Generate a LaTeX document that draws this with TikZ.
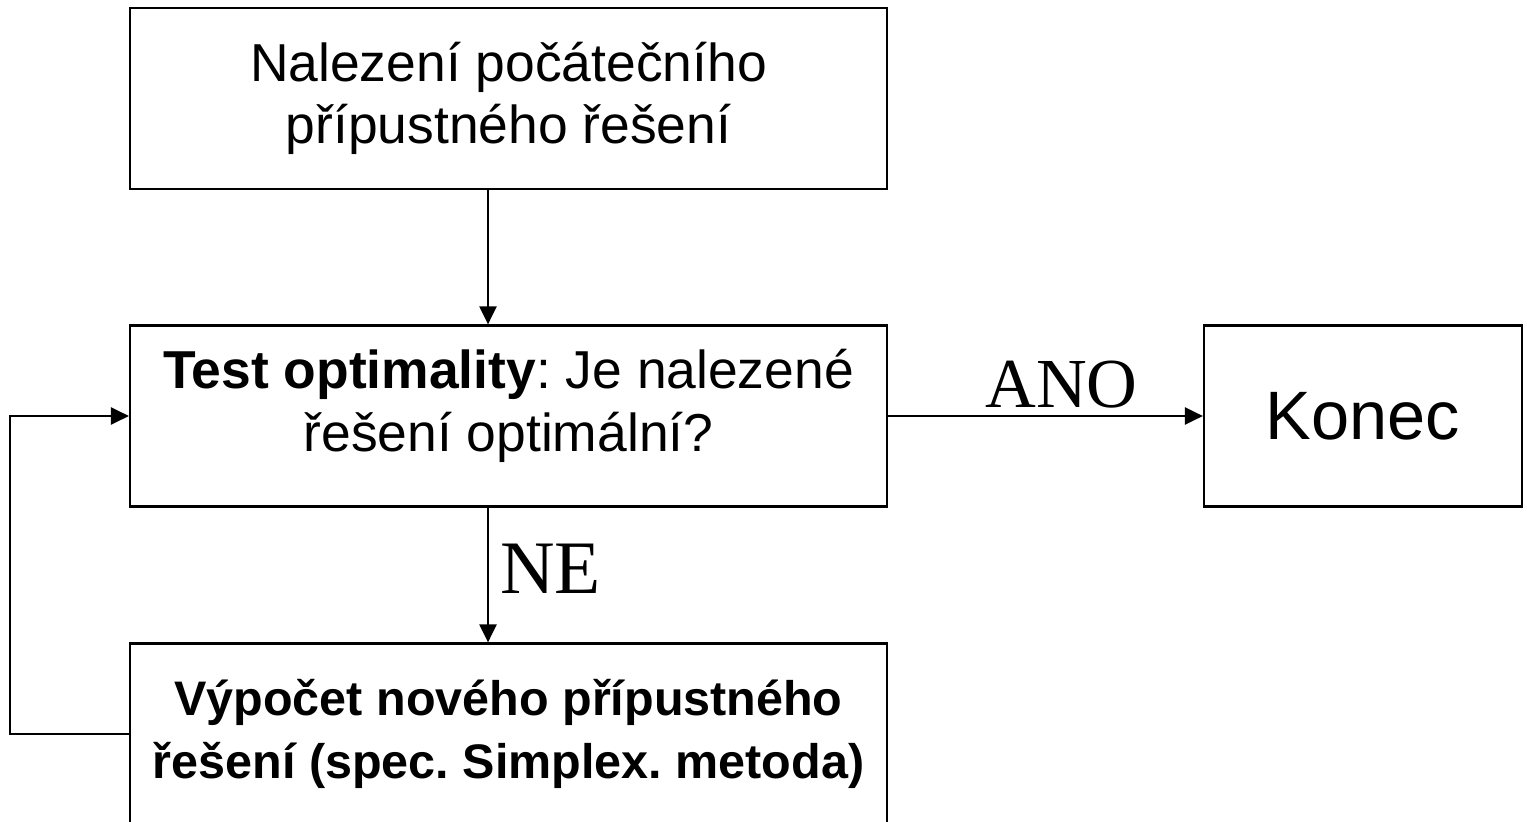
\documentclass[tikz,border=0pt]{standalone}
\usepackage{fontspec}
\setmainfont{Liberation Sans}
\newfontfamily\timesfont{Liberation Serif}
\usetikzlibrary{positioning, arrows.meta}
\frenchspacing
\tikzset{
  box/.style={draw, line width=1.3pt, minimum width=15.14cm, minimum height=3.62cm, align=center, inner sep=0pt, font=\fontsize{30.4}{35.5}\selectfont},
  flow/.style={line width=1.3pt, -{Triangle[length=0.36cm,width=0.34cm]}},
  answer/.style={font=\timesfont\fontsize{40}{42}\selectfont, inner sep=4pt}
}
\begin{document}
\begin{tikzpicture}[x=0.02cm,y=-0.02cm]
		\useasboundingbox (0,0) rectangle (1527,821);
		\node[box] (start) at (508.5,98.5) {Nalezení počátečního\\přípustného řešení};
		\node[box, text depth=0.62cm] (test) at (508.5,416) {\textbf{Test optimality}: Je nalezené\\řešení optimální?};
		\node[box, font=\fontsize{27.6}{35.5}\selectfont\bfseries] (novy) at (508.5,734) {Výpočet nového přípustného\\řešení (spec. Simplex. metoda)};
		\node[box, minimum width=6.36cm, font=\fontsize{39}{42}\selectfont] (konec) at (1363,416) {Konec};
		\draw[flow] ([xshift=-0.41cm]start.south) -- ([xshift=-0.41cm]test.north);
		\draw[flow] ([xshift=-0.41cm]test.south) -- node[answer, right, xshift=0.08cm, yshift=0.12cm, font=\timesfont\fontsize{43}{45}\selectfont] {NE} ([xshift=-0.41cm]novy.north);
		\draw[flow] (test) -- node[answer, above, xshift=0.32cm] {ANO} (konec);
		\draw[flow] (novy.west) -- ++(-119,0) |- (test.west);
\end{tikzpicture}
\end{document}
